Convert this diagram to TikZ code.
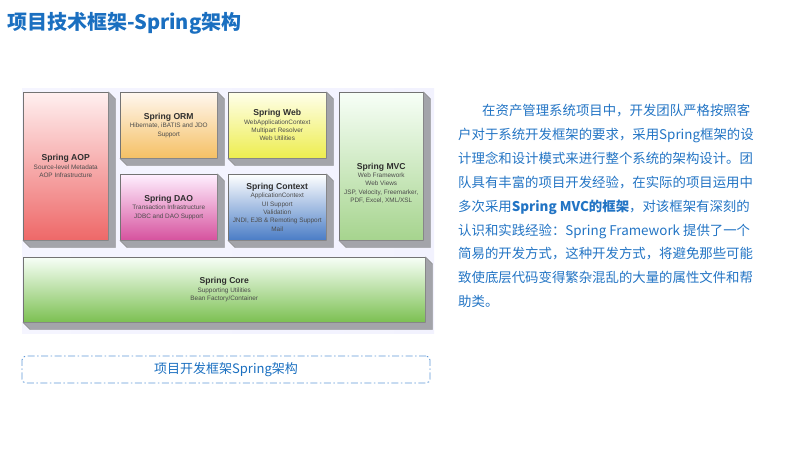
\documentclass[tikz,border=0pt]{standalone}
\usepackage{fontspec}
\setmainfont{Liberation Sans}
\newfontfamily\cjk{Noto Sans CJK SC}
\definecolor{titleblue}{HTML}{1A6FC0}
\definecolor{bodyblue}{HTML}{2274C4}
\definecolor{capline}{HTML}{5F98D6}
\definecolor{sidegray}{HTML}{A3A4AA}
\definecolor{aopred}{HTML}{EE6868}
\definecolor{ormorange}{HTML}{F5C064}
\definecolor{daopink}{HTML}{D6529E}
\definecolor{webyellow}{HTML}{EDED4E}
\definecolor{ctxblue}{HTML}{4A7DC6}
\definecolor{mvcgreen}{HTML}{A6D48E}
\definecolor{coregreen}{HTML}{7CC052}
% extruded grey side of a box
\newcommand\boxside[1]{%
  \filldraw[sidegray, draw=black!45, line width=0.4pt] (#1.south west) -- ++(7,7)
    -| ([shift={(7,7)}]#1.north east) -- (#1.north east) -- (#1.south east) -- cycle;}
\newcommand\boxtitle[1]{{\fontsize{8.6}{9.8}\selectfont\bfseries\color{black!82}#1}}
\begin{document}
\begin{tikzpicture}[x=1pt, y=-1pt,
    springbox/.style={draw=black!55, line width=0.5pt, anchor=north west, inner sep=1pt,
      align=center, font=\fontsize{6.4}{8.4}\selectfont, text=black!70},
    capbox/.style={draw=capline, line width=0.9pt, rounded corners=4pt,
      dash pattern=on 7pt off 2.5pt on 1.5pt off 2.5pt, font=\cjk\fontsize{13}{15}\selectfont,
      text=titleblue}]
  \useasboundingbox (0,0) rectangle (800,450);

  % title
  \node[anchor=west, inner sep=0, font=\cjk\bfseries\fontsize{20}{24}\selectfont, text=titleblue]
    (title) at (7,23) {项目技术框架-Spring架构};

  % picture ground
  \shade[left color=white!96!blue, right color=black!5!blue!5] (22,88) rectangle (434,333);

  % the modules
  \node[springbox, minimum width=85, minimum height=148, top color=red!6, bottom color=aopred]
    (aop) at (23,92) {\boxtitle{Spring AOP}\\Source-level Metadata\\AOP Infrastructure};
  \node[springbox, minimum width=97, minimum height=66, top color=orange!6, bottom color=ormorange]
    (orm) at (120,92) {\boxtitle{Spring ORM}\\Hibernate, iBATIS and JDO\\Support};
  \node[springbox, minimum width=97, minimum height=66, top color=magenta!6, bottom color=daopink]
    (dao) at (120,174) {\boxtitle{Spring DAO}\\Transaction Infrastructure\\JDBC and DAO Support};
  \node[springbox, minimum width=98, minimum height=66, top color=yellow!8, bottom color=webyellow]
    (web) at (228,92) {\boxtitle{Spring Web}\\WebApplicationContext\\Multipart Resolver\\Web Utilities};
  \node[springbox, minimum width=98, minimum height=66, top color=white, bottom color=ctxblue]
    (context) at (228,174) {\boxtitle{Spring Context}\\ApplicationContext\\UI Support\\Validation\\JNDI, EJB \& Remoting Support\\Mail};
  \node[springbox, minimum width=84, minimum height=148, top color=green!3, bottom color=mvcgreen]
    (mvc) at (339,92) {};
  \node[align=center, inner sep=0, font=\fontsize{6.4}{8.4}\selectfont, text=black!70]
    (mvctext) at ([yshift=-17]mvc.center) {\boxtitle{Spring MVC}\\Web Framework\\Web Views\\JSP, Velocity, Freemarker,\\PDF, Excel, XML/XSL};
  \node[springbox, minimum width=402, minimum height=65, top color=green!3, bottom color=coregreen]
    (core) at (23,257) {\boxtitle{Spring Core}\\Supporting Utilities\\Bean Factory/Container};
  \foreach \m in {aop,orm,dao,web,context,mvc,core}
    \boxside{\m};

  % caption
  \node[capbox, minimum width=408, minimum height=27] (caption) at (226,369.5) {项目开发框架Spring架构};

  % text on the right
  \node[anchor=north west, inner sep=0, align=left, text=bodyblue,
      font=\cjk\fontsize{13.4}{23.9}\selectfont] (para) at (458,104) {%
    \hspace*{24pt}在资产管理系统项目中，开发团队严格按照客\\
    户对于系统开发框架的要求，采用Spring框架的设\\
    计理念和设计模式来进行整个系统的架构设计。团\\
    队具有丰富的项目开发经验，在实际的项目运用中\\
    多次采用\textbf{Spring MVC的框架}，对该框架有深刻的\\
    认识和实践经验：Spring Framework 提供了一个\\
    简易的开发方式，这种开发方式，将避免那些可能\\
    致使底层代码变得繁杂混乱的大量的属性文件和帮\\
    助类。};
\end{tikzpicture}
\end{document}
